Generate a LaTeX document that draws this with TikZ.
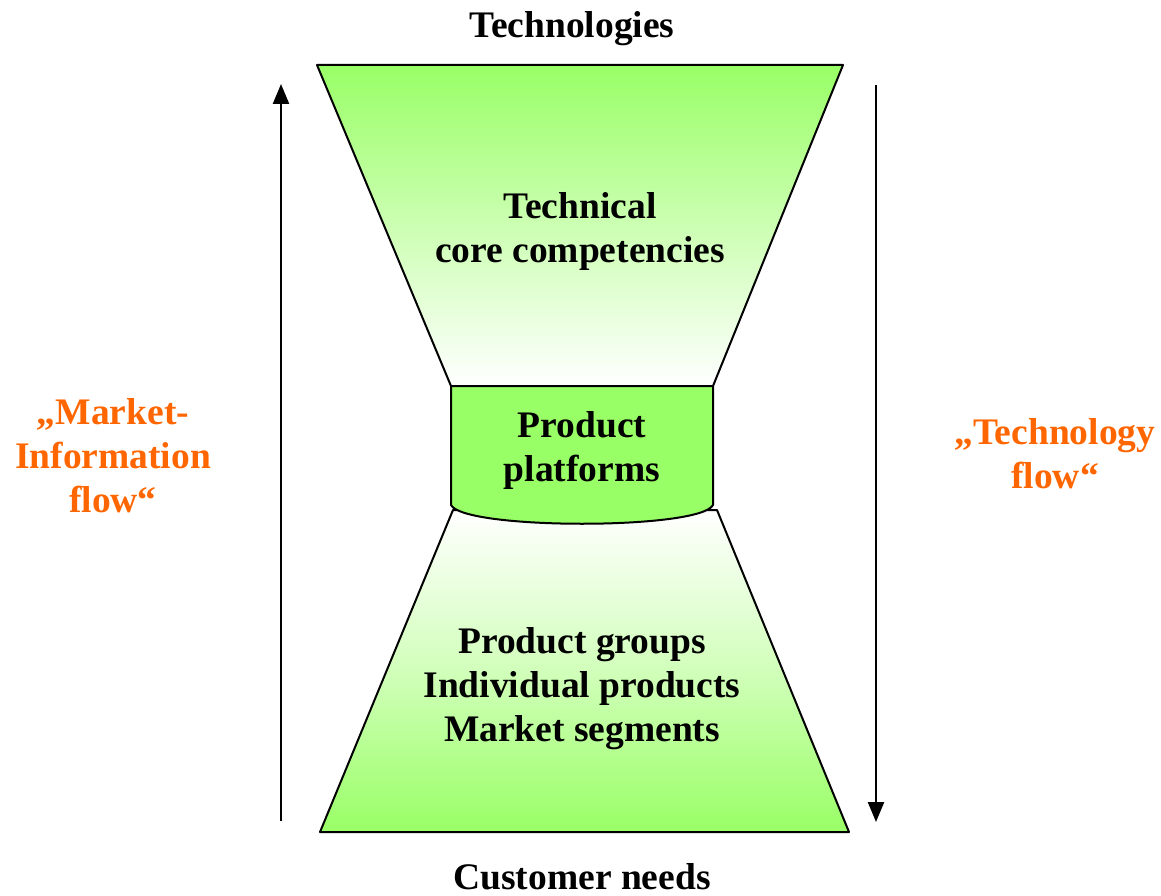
\documentclass[tikz,border=0pt]{standalone}
\usepackage{fontspec}
\setmainfont{Liberation Serif}
\usetikzlibrary{arrows.meta}
\definecolor{lgreen}{RGB}{153,255,102}
\definecolor{morange}{RGB}{255,102,0}
\tikzset{
  lbl/.style={font=\fontsize{37.5}{44}\selectfont\bfseries, align=center, inner sep=0pt},
  olbl/.style={lbl, text=morange},
  shapeline/.style={draw=black, line width=2pt, line join=round},
  flow/.style={line width=2.4pt, -{Triangle[length=20pt,width=16pt]}}
}
\begin{document}
\begin{tikzpicture}[x=1pt,y=-1pt]
\useasboundingbox (0,0) rectangle (1161,896);
% top trapezoid
\path[shapeline, top color=lgreen, bottom color=white] (317,65) -- (843,65) -- (713,386) -- (451,386) -- cycle;
% bottom trapezoid
\path[shapeline, top color=white, bottom color=lgreen, middle color=lgreen!45] (453,510) -- (717,510) -- (849,832) -- (320,832) -- cycle;
% middle cylinder
\path[shapeline, fill=lgreen] (451,386) -- (713,386) -- (713,505) .. controls (700,530) and (464,530) .. (451,505) -- cycle;
% texts
\node[lbl] (tech) at (572,29) {Technologies};
\node[lbl] (cust) at (582,877) {Customer needs};
\node[lbl] (core) at (580,231) {Technical\\core competencies};
\node[lbl] (plat) at (582,450) {Product\\platforms};
\node[lbl] (prod) at (582,689) {Product groups\\Individual products\\Market segments};
\node[olbl] (mif) at (113,456) {„Market-\\Information\\flow“};
\node[olbl] (tf) at (1055,454) {„Technology\\flow“};
% arrows
\coordinate (lb) at (281,821);
\coordinate (lt) at (281,84);
\coordinate (rt) at (876,85);
\coordinate (rb) at (876,822);
\draw[flow] (lb) -- (lt);
\draw[flow] (rt) -- (rb);
\end{tikzpicture}
\end{document}
